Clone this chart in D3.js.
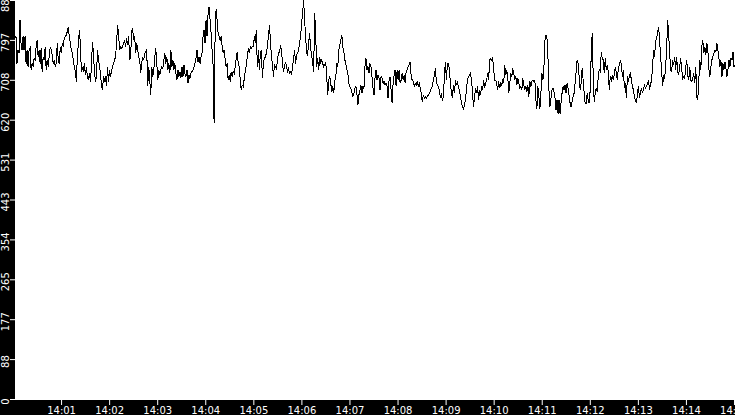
<!DOCTYPE html>
<html>
<head>
<meta charset="utf-8">
<script src="https://cdn.jsdelivr.net/npm/d3@7"></script>
<style>
body { margin: 0; background: #fff; overflow: hidden; }
svg text { font-family: "DejaVu Sans", sans-serif; font-size: 10px; fill: #fff; }
</style>
</head>
<body>
<svg id="chart" width="735" height="415"></svg>
<script>
// time window shown on the x axis
var startTime = new Date(2024, 0, 1, 14, 0, 2, 500);
var endTime = new Date(2024, 0, 1, 14, 15, 1, 250);

// samples, evenly spaced in time
var values = [
  801,805,745,775,768,842,790,775,805,775,805,745,775,738,775,779,731,745,738,756,
  753,782,797,760,775,745,779,727,760,753,782,731,753,738,760,782,775,764,745,753,
  738,745,790,753,745,782,768,790,782,801,805,808,816,827,805,790,775,768,753,738,
  727,705,760,790,819,790,727,738,727,745,719,738,716,708,723,705,738,793,768,727,
  705,716,775,756,738,723,694,686,716,708,716,694,738,705,731,716,727,738,745,753,
  760,790,830,812,775,782,779,782,790,797,782,801,786,805,753,760,816,
  823,797,805,768,790,775,760,753,723,745,760,753,768,771,775,694,738,708,675,738,
  716,731,760,779,745,708,731,719,731,738,734,753,768,745,760,731,745,723,775,738,
  753,731,745,723,708,731,716,727,712,738,716,742,723,716,731,701,719,712,723,727,
  731,738,745,756,775,749,760,745,760,768,805,819,790,842,805,856,871,842,812,775,
  742,612,812,867,842,812,805,797,805,782,768,775,753,738,745,708,719,705,727,716,
  727,723,738,756,771,745,738,708,686,697,694,712,727,742,760,779,768,782,779,782,
  782,805,790,819,738,775,731,768,775,712,745,756,760,768,782,805,830,797,760,745,
  716,742,738,734,753,768,771,782,775,745,727,738,749,738,727,734,723,727,719,738,
  756,775,745,764,768,775,790,805,834,856,886,842,805,768,764,790,812,779,764,745,
  727,856,812,738,756,731,760,745,753,745,738,742,749,716,675,708,716,701,682,694,
  679,705,716,745,738,775,786,797,808,782,771,753,745,731,723,701,694,690,682,671,
  679,690,694,679,653,675,686,697,679,694,690,738,756,731,738,723,745,738,716,690,
  675,712,731,708,719,712,686,716,712,701,705,697,701,694,668,708,716,686,657,701,
  719,731,694,731,708,731,701,708,723,708,719,701,727,731,738,742,749,716,708,705,
  694,701,697,705,694,701,690,679,660,675,668,671,668,671,675,679,682,690,694,708,
  719,734,705,697,694,686,668,675,664,671,716,749,708,745,745,731,701,679,668,697,
  679,708,697,705,690,686,671,657,649,645,653,664,690,708,716,719,723,708,679,649,
  671,690,679,694,664,686,675,694,686,708,690,701,708,723,708,753,756,753,760,731,708,
  708,701,686,705,690,701,697,708,701,742,719,731,716,679,701,723,716,734,723,708,
  716,697,712,701,690,694,686,712,697,686,694,682,697,671,705,694,705,708,705,708,
  664,645,694,671,645,679,723,708,738,797,808,801,760,686,649,668,686,690,682,668,
  642,664,634,664,634,657,679,694,686,697,679,701,690,675,657,649,660,671,679,701,
  727,753,745,716,686,701,734,708,679,657,657,679,664,657,686,764,812,716,660,679,
  690,682,716,731,727,771,756,753,723,756,731,742,727,686,716,705,719,708,723,738,
  723,708,734,742,753,742,716,731,690,701,668,716,708,716,727,705,694,686,671,664,
  657,679,694,668,682,690,679,690,697,690,694,701,708,686,701,705,738,775,760,793,
  801,812,827,797,760,731,694,716,712,738,775,842,812,768,731,727,753,742,760,731,
  760,727,719,738,756,731,712,716,712,738,753,719,708,738,708,705,712,723,701,738,
  671,664,708,753,731,782,797,768,782,764,790,775,734,716,738,753,760,768,775,771,
  790,775,756,738,753,716,745,731,749,734,716,731,753,738,756,753,771,738,742
];

// y axis is split into ten equal parts of the maximum
var yTickParts = [0,1,2,3,4,5,6,7,8,9,10];

var width = 735, height = 415;
var margin = {left: 15, bottom: 15};
var plotBottom = height - margin.bottom;

var svg = d3.select("#chart");

var step = (endTime - startTime) / (values.length - 1);
var points = values.map(function(v, i) {
    return {t: new Date(+startTime + i * step), v: v};
});

var yMax = d3.max(values);

var x = d3.scaleTime()
    .domain([startTime, endTime])
    .range([margin.left, width]);

var y = d3.scaleLinear()
    .domain([0, yMax])
    .range([plotBottom - 1, 0]);

// black strips behind the axes
svg.append("rect")
    .attr("x", 0).attr("y", 0)
    .attr("width", margin.left).attr("height", height)
    .attr("fill", "#000");
svg.append("rect")
    .attr("x", 0).attr("y", plotBottom)
    .attr("width", width).attr("height", margin.bottom)
    .attr("fill", "#000");

var line = d3.line()
    .x(function(d) { return x(d.t); })
    .y(function(d) { return y(d.v); });

svg.append("path")
    .datum(points)
    .attr("d", line)
    .attr("fill", "none")
    .attr("stroke", "#000")
    .attr("stroke-width", 1)
    .style("shape-rendering", "crispEdges");

var xAxis = svg.append("g")
    .attr("transform", "translate(0," + plotBottom + ")")
    .call(d3.axisBottom(x)
        .ticks(d3.timeMinute.every(1))
        .tickFormat(d3.timeFormat("%H:%M"))
        .tickSize(5)
        .tickPadding(2));
xAxis.select(".domain").remove();
xAxis.selectAll("line").attr("stroke", "#fff");
xAxis.selectAll("text").attr("fill", "#fff").style("font-size", "10px");

var yAxis = svg.append("g")
    .attr("transform", "translate(" + margin.left + ",0)")
    .call(d3.axisLeft(y)
        .tickValues(yTickParts.map(function(p) { return yMax * p / 10; }))
        .tickFormat(function(d) { return Math.floor(d); })
        .tickSize(5));
yAxis.select(".domain").remove();
yAxis.selectAll("line").attr("stroke", "#fff");
yAxis.selectAll("text")
    .attr("fill", "#fff")
    .attr("x", -2)
    .attr("y", -6)
    .attr("dy", 0)
    .attr("text-anchor", "middle")
    .attr("transform", "rotate(-90)")
    .style("font-size", "10px");
</script>
</body>
</html>
